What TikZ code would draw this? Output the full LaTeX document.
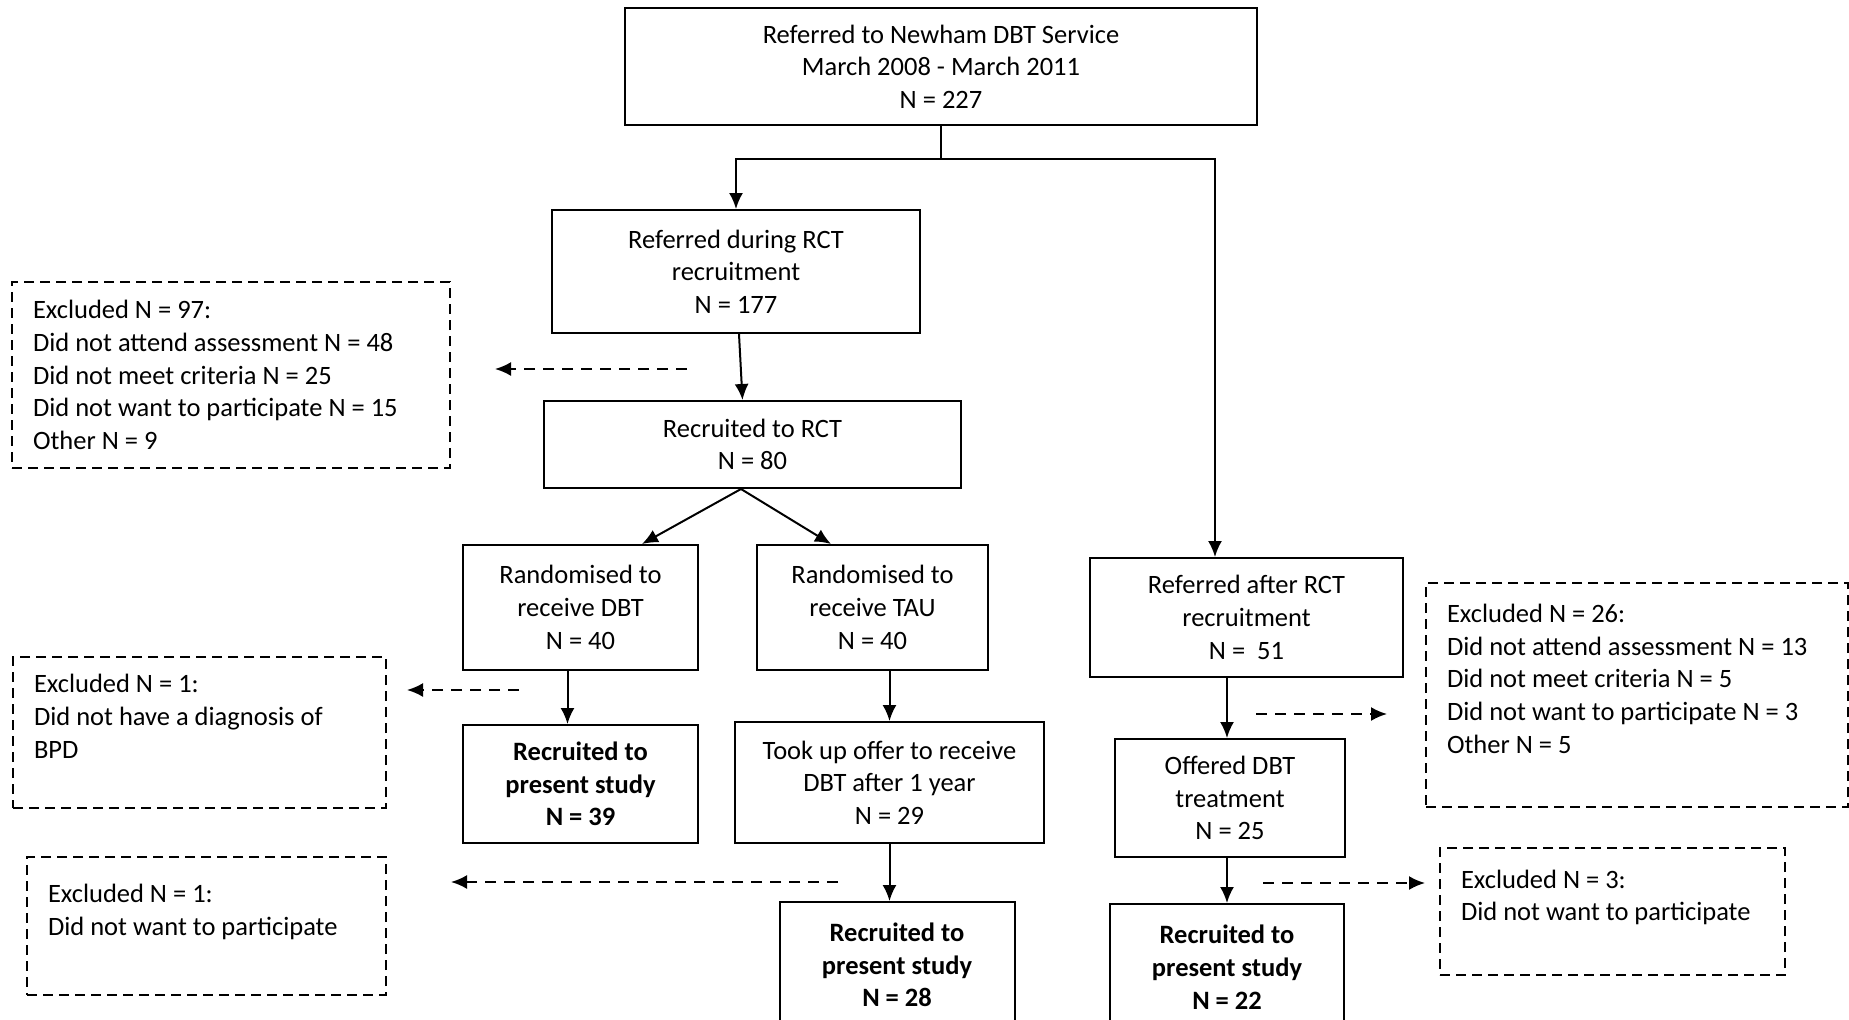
\documentclass[tikz,border=0pt]{standalone}
\usepackage{fontspec}
\setmainfont{Carlito}
\usetikzlibrary{arrows.meta}
\newcommand{\flowfont}{\fontsize{13.25}{16.35}\selectfont}
\tikzstyle{block} = [draw, rectangle, line width=1pt, align=center, inner sep=2pt, font=\flowfont]
\tikzstyle{result} = [block, font=\flowfont\bfseries]
\tikzstyle{excluded} = [draw, rectangle, dash pattern=on 5pt off 3pt, line width=0.8pt, align=flush left, inner xsep=10.5pt, font=\flowfont]
\tikzstyle{drop} = [->, dash pattern=on 5.5pt off 4pt, line width=1pt]

\begin{document}
\begin{tikzpicture}[x=0.5pt, y=-0.5pt, line width=1pt, >={Latex[length=8pt,width=7pt]}]

\useasboundingbox (0,0) rectangle (1849,1019);

\node [block, minimum width=316pt, minimum height=58.5pt] (referred) at (941,66.5) {Referred to Newham DBT Service\\March 2008 - March 2011\\N = 227};
\node [block, minimum width=184pt, minimum height=61.5pt] (during) at (736,271.5) {Referred during RCT\\recruitment\\N = 177};
\node [block, minimum width=208.5pt, minimum height=43.5pt] (rct) at (752.5,444.5) {Recruited to RCT\\N = 80};
\node [block, minimum width=117.5pt, minimum height=62.5pt] (dbt) at (580.5,607.5) {Randomised to\\receive DBT\\N = 40};
\node [block, minimum width=115.5pt, minimum height=62.5pt] (tau) at (872.5,607.5) {Randomised to\\receive TAU\\N = 40};
\node [result, minimum width=117.5pt, minimum height=59pt] (dbtstudy) at (580.5,784) {Recruited to\\present study\\N = 39};
\node [block, minimum width=154.5pt, minimum height=60.5pt] (tookup) at (889.5,782.5) {Took up offer to receive\\DBT after 1 year\\N = 29};
\node [result, minimum width=117.5pt, minimum height=63pt] (taustudy) at (897,965) {Recruited to\\present study\\N = 28};
\node [block, minimum width=156.5pt, minimum height=59.5pt] (after) at (1246.5,617.5) {Referred after RCT\\recruitment\\N =\ \ 51};
\node [block, minimum width=115pt, minimum height=59pt] (offered) at (1230,798) {Offered DBT\\treatment\\N = 25};
\node [result, minimum width=117pt, minimum height=63pt] (afterstudy) at (1227,967) {Recruited to\\present study\\N = 22};

% exclusion boxes
\node [excluded, minimum width=219pt, minimum height=93pt, text width=198pt] (excl97) at (231,375) {Excluded N = 97:\\Did not attend assessment N = 48\\Did not meet criteria N = 25\\Did not want to participate N = 15\\Other N = 9};
\node [excluded, minimum width=186.5pt, minimum height=75.5pt, text width=165.5pt] (excldbt) at (199.5,732.5) {Excluded N = 1:\\Did not have a diagnosis of\\BPD\\~};
\node [excluded, minimum width=179.5pt, minimum height=69pt, text width=158.5pt] (excltau) at (206.5,926) {Excluded N = 1:\\Did not want to participate\\~};
\node [excluded, minimum width=211pt, minimum height=112pt, text width=190pt] (excl26) at (1637,695) {Excluded N = 26:\\Did not attend assessment N = 13\\Did not meet criteria N = 5\\Did not want to participate N = 3\\Other N = 5\\~};
\node [excluded, minimum width=172.5pt, minimum height=63.5pt, text width=151.5pt] (excl3) at (1612.5,911.5) {Excluded N = 3:\\Did not want to participate\\~};

\coordinate (split) at (941,159);
\coordinate (from97) at (687,369);
\coordinate (to97) at (495,369);
\coordinate (fromdbt) at (519,690);
\coordinate (todbt) at (407,690);
\coordinate (fromtau) at (838,882);
\coordinate (totau) at (451,882);
\coordinate (from26) at (1256,714);
\coordinate (to26) at (1387,714);
\coordinate (from3) at (1263,883);
\coordinate (to3) at (1425,883);

\draw (referred) -- (split);
\draw [->] (split) -| (during);
\draw [->] (split) -| ([xshift=-15.75pt]after.north);
\draw [->] ([xshift=1.5pt]during.south) -- ([xshift=-5pt]rct.north);
\draw [->] ([xshift=-5.75pt]rct.south) -- ([xshift=30.75pt]dbt.north);
\draw [->] ([xshift=-5.75pt]rct.south) -- ([xshift=-20.75pt]tau.north);
\draw [->] ([xshift=-6.5pt]dbt.south) -- ([xshift=-6.5pt]dbtstudy.north);
\draw [->] ([xshift=8.5pt]tau.south) -- (tookup);
\draw [->] (tookup) -- ([xshift=-3.75pt]taustudy.north);
\draw [->] ([xshift=-9.75pt]after.south) -- ([xshift=-1.5pt]offered.north);
\draw [->] ([xshift=-1.5pt]offered.south) -- (afterstudy);

\draw [drop] (from97) -- (to97);
\draw [drop] (fromdbt) -- (todbt);
\draw [drop] (fromtau) -- (totau);
\draw [drop] (from26) -- (to26);
\draw [drop] (from3) -- (to3);

\end{tikzpicture}
\end{document}
